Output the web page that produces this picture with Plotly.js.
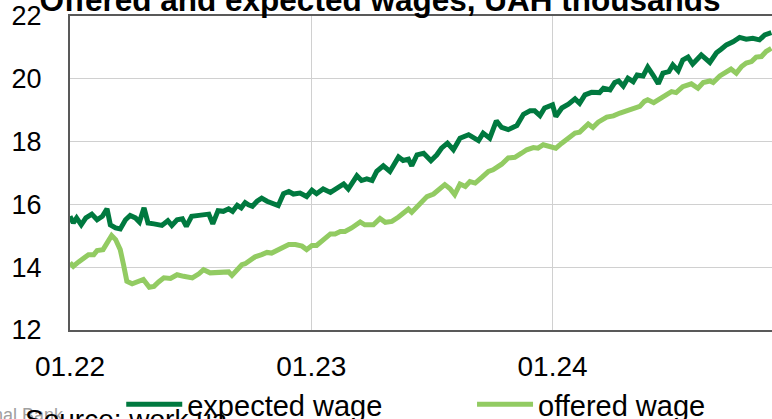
<!DOCTYPE html>
<html>
<head>
<meta charset="utf-8">
<script src="https://cdn.plot.ly/plotly-3.0.1.min.js"></script>
<style>
html,body{margin:0;padding:0;background:#fff;overflow:hidden;}
#chart{width:772px;height:419px;}
</style>
</head>
<body>
<div id="chart"></div>
<script>
const titleText = "Offered and expected wages, UAH thousands";
const sourceText = "Source: work.ua";
const seriesNames = ["expected wage", "offered wage"];
const tickVals = ["2022-01-01", "2023-01-01", "2024-01-01"];
const tickText = ["01.22", "01.23", "01.24"];
const yTicks = [12, 14, 16, 18, 20, 22];

const expectedDates = [
"2022-01-01","2022-01-06","2022-01-11","2022-01-18","2022-01-25","2022-02-03","2022-02-11","2022-02-19","2022-02-26","2022-03-03",
"2022-03-11","2022-03-18","2022-03-26","2022-04-02","2022-04-10","2022-04-16","2022-04-23","2022-04-29","2022-05-08","2022-05-20",
"2022-05-29","2022-06-04","2022-06-12","2022-06-20","2022-06-26","2022-07-04","2022-07-15","2022-07-30","2022-08-05","2022-08-13",
"2022-08-21","2022-08-29","2022-09-04","2022-09-11","2022-09-17","2022-09-23","2022-09-28","2022-10-04","2022-10-11","2022-10-18",
"2022-10-26","2022-11-05","2022-11-12","2022-11-20","2022-11-28","2022-12-05","2022-12-15","2022-12-25","2023-01-02","2023-01-09",
"2023-01-19","2023-01-30","2023-02-09","2023-02-19","2023-02-26","2023-03-11","2023-03-18","2023-03-26","2023-04-03","2023-04-10",
"2023-04-20","2023-04-30","2023-05-13","2023-05-20","2023-05-28","2023-06-02","2023-06-10","2023-06-20","2023-07-01","2023-07-10",
"2023-07-17","2023-07-26","2023-08-04","2023-08-14","2023-08-27","2023-09-03","2023-09-11","2023-09-18","2023-09-28","2023-10-08",
"2023-10-16","2023-10-26","2023-11-08","2023-11-18","2023-11-28","2023-12-05","2023-12-13","2023-12-20","2023-12-28","2024-01-01",
"2024-01-06","2024-01-15","2024-01-25","2024-02-04","2024-02-11","2024-02-19","2024-02-29","2024-03-12","2024-03-18","2024-03-28",
"2024-04-04","2024-04-10","2024-04-17","2024-04-24","2024-05-02","2024-05-08","2024-05-17","2024-05-24","2024-06-01","2024-06-09",
"2024-06-16","2024-06-25","2024-07-01","2024-07-09","2024-07-16","2024-07-24","2024-07-31","2024-08-13","2024-08-26","2024-09-05",
"2024-09-12","2024-09-20","2024-09-30","2024-10-10","2024-10-20","2024-10-30","2024-11-09","2024-11-17","2024-11-27"
];
const expectedWage = [
15.62,15.41,15.57,15.35,15.57,15.69,15.51,15.62,15.86,15.35,
15.25,15.22,15.51,15.65,15.57,15.44,15.89,15.41,15.38,15.33,
15.48,15.33,15.51,15.54,15.30,15.62,15.65,15.69,15.38,15.80,
15.78,15.86,15.78,15.97,15.89,16.06,15.99,15.94,16.10,16.20,
16.10,16.04,15.96,16.34,16.41,16.33,16.36,16.25,16.45,16.34,
16.49,16.38,16.52,16.65,16.49,16.91,16.76,16.81,16.76,17.05,
17.23,17.05,17.51,17.40,17.44,17.23,17.58,17.63,17.39,17.58,
17.79,17.95,17.74,18.11,18.22,18.13,18.03,18.27,18.11,18.66,
18.45,18.38,18.51,18.87,18.98,18.98,18.83,19.07,19.12,19.17,
18.80,19.07,19.19,19.36,19.22,19.49,19.57,19.56,19.70,19.65,
19.88,19.93,19.77,20.02,19.91,20.12,20.09,20.37,20.12,19.84,
20.18,20.23,20.44,20.26,20.60,20.69,20.47,20.76,20.52,20.83,
20.94,21.08,21.18,21.32,21.26,21.29,21.24,21.40,21.47
];

const offeredDates = [
"2022-01-01","2022-01-06","2022-01-14","2022-01-22","2022-01-29","2022-02-06","2022-02-11","2022-02-20","2022-02-26","2022-03-05",
"2022-03-11","2022-03-18","2022-03-23","2022-03-28","2022-04-05","2022-04-15","2022-04-22","2022-05-01","2022-05-08","2022-05-15",
"2022-05-23","2022-06-02","2022-06-12","2022-06-22","2022-07-05","2022-07-15","2022-07-22","2022-08-01","2022-08-11","2022-08-21",
"2022-08-29","2022-09-03","2022-09-11","2022-09-18","2022-09-23","2022-10-01","2022-10-08","2022-10-18","2022-10-26","2022-11-02",
"2022-11-12","2022-11-20","2022-11-28","2022-12-08","2022-12-18","2022-12-25","2023-01-02","2023-01-09","2023-01-19","2023-01-30",
"2023-02-06","2023-02-14","2023-02-21","2023-03-03","2023-03-16","2023-03-23","2023-04-05","2023-04-15","2023-04-23","2023-05-03",
"2023-05-13","2023-05-20","2023-05-28","2023-06-02","2023-06-10","2023-06-15","2023-06-25","2023-07-05","2023-07-12","2023-07-22",
"2023-07-30","2023-08-06","2023-08-14","2023-08-22","2023-08-29","2023-09-06","2023-09-16","2023-09-26","2023-10-03","2023-10-16",
"2023-10-26","2023-11-05","2023-11-15","2023-11-23","2023-12-03","2023-12-10","2023-12-18","2023-12-28","2024-01-06","2024-01-15",
"2024-01-25","2024-02-04","2024-02-11","2024-02-19","2024-02-24","2024-03-02","2024-03-10","2024-03-23","2024-04-02","2024-04-12",
"2024-04-22","2024-05-02","2024-05-12","2024-05-19","2024-05-24","2024-06-02","2024-06-11","2024-06-21","2024-06-29","2024-07-06",
"2024-07-16","2024-07-29","2024-08-08","2024-08-16","2024-08-26","2024-08-31","2024-09-10","2024-09-20","2024-09-27","2024-10-05",
"2024-10-13","2024-10-20","2024-10-28","2024-11-04","2024-11-12","2024-11-19","2024-11-27"
];
const offeredWage = [
14.14,14.03,14.17,14.32,14.40,14.40,14.53,14.56,14.80,15.01,
14.88,14.56,14.08,13.55,13.47,13.53,13.61,13.36,13.39,13.53,
13.66,13.64,13.76,13.71,13.66,13.79,13.92,13.82,13.82,13.82,
13.85,13.74,13.92,14.08,14.11,14.24,14.33,14.40,14.47,14.45,
14.54,14.65,14.72,14.72,14.67,14.56,14.69,14.69,14.88,15.06,
15.06,15.14,15.14,15.25,15.44,15.35,15.35,15.55,15.43,15.46,
15.60,15.70,15.85,15.75,15.94,16.05,16.25,16.33,16.44,16.63,
16.50,16.31,16.65,16.57,16.73,16.68,16.86,17.05,17.10,17.28,
17.48,17.50,17.63,17.74,17.81,17.79,17.90,17.84,17.79,17.95,
18.13,18.27,18.30,18.48,18.56,18.45,18.62,18.78,18.82,18.91,
18.99,19.07,19.12,19.28,19.33,19.24,19.38,19.49,19.59,19.56,
19.75,19.84,19.70,19.88,19.93,19.88,20.09,20.20,20.31,20.18,
20.39,20.50,20.55,20.69,20.71,20.87,20.97
];

const FONT = 'Arial, "Liberation Sans", sans-serif';
const darkGreen = '#00793F';
const lightGreen = '#92CB62';

const traces = [
  {x: expectedDates, y: expectedWage, name: seriesNames[0], type: 'scatter', mode: 'lines',
   line: {color: darkGreen, width: 5, shape: 'linear'}, legend: 'legend'},
  {x: offeredDates, y: offeredWage, name: seriesNames[1], type: 'scatter', mode: 'lines',
   line: {color: lightGreen, width: 5, shape: 'linear'}, legend: 'legend2'}
];

const legendBase = {orientation: 'h', xanchor: 'left', y: -0.237, yanchor: 'middle',
  font: {family: FONT, size: 29, color: '#000'}, itemwidth: 56,
  bgcolor: 'rgba(0,0,0,0)', borderwidth: 0};

const layout = {
  width: 772, height: 419,
  margin: {l: 70, r: 0, t: 16, b: 89, pad: 0, autoexpand: false},
  paper_bgcolor: '#fff', plot_bgcolor: '#fff',
  font: {family: FONT, size: 26, color: '#000'},
  title: {text: '<b>' + titleText + '</b>', font: {family: FONT, size: 31.5, color: '#000'},
          x: 380/772, xanchor: 'center', xref: 'container', yref: 'container', y: 1 - 10.5/419, yanchor: 'bottom'},
  showlegend: true,
  legend: Object.assign({}, legendBase, {x: 0.073}),
  legend2: Object.assign({}, legendBase, {x: 0.5727}),
  xaxis: {type: 'date', range: ['2022-01-01', '2024-11-28'], tickvals: tickVals, ticktext: tickText,
          showgrid: true, gridcolor: '#d0d0d0', gridwidth: 1.3, zeroline: false,
          showline: true, linecolor: '#595959', linewidth: 2, mirror: true,
          ticks: '', ticklabelstandoff: 10, tickfont: {family: FONT, size: 28, color: '#000'}},
  yaxis: {range: [12, 22], tickvals: yTicks, showgrid: true, gridcolor: '#d0d0d0', gridwidth: 1.3,
          zeroline: false, showline: true, linecolor: '#595959', linewidth: 2,
          ticks: '', ticklabelstandoff: 21, tickfont: {family: FONT, size: 27, color: '#000'}},
  annotations: [
    {text: 'National Bank', xref: 'paper', yref: 'paper', x: -0.005, y: -0.232, xanchor: 'right', yanchor: 'top',
     showarrow: false, font: {family: FONT, size: 18, color: '#a0a0a0'}},
    {text: sourceText, xref: 'paper', yref: 'paper', x: -0.0665, y: -0.2305, xanchor: 'left', yanchor: 'top',
     showarrow: false, font: {family: FONT, size: 28, color: '#000'}}
  ]
};

Plotly.newPlot('chart', traces, layout, {displayModeBar: false, staticPlot: true});
</script>
</body>
</html>
